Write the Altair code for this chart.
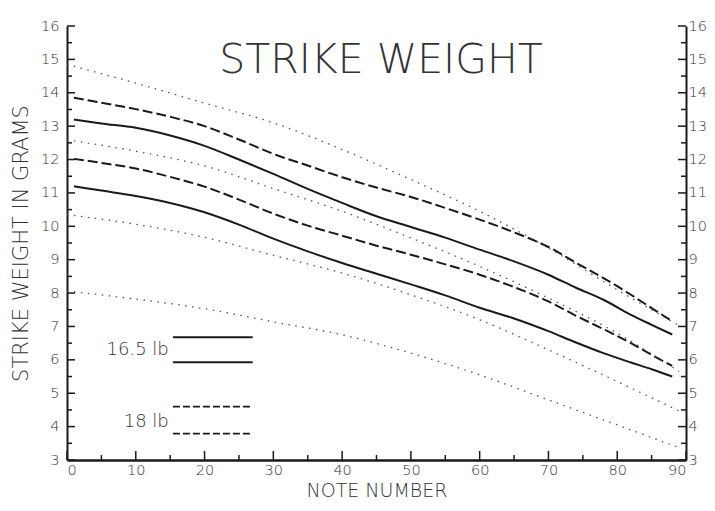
import altair as alt
import pandas as pd

# ---------------- data ----------------
notes = [1, 5, 10, 15, 20, 25, 30, 35, 40, 45, 50, 55, 60, 65, 70, 74, 78, 82, 85, 88]
upper_165 = [13.2, 13.08, 12.95, 12.72, 12.41, 12.0, 11.57, 11.12, 10.7, 10.3,
             9.98, 9.66, 9.3, 8.95, 8.55, 8.16, 7.8, 7.35, 7.05, 6.76]
lower_165 = [11.2, 11.07, 10.91, 10.7, 10.42, 10.05, 9.63, 9.25, 8.9, 8.58,
             8.26, 7.93, 7.56, 7.24, 6.86, 6.52, 6.2, 5.92, 5.72, 5.5]
upper_18 = [13.85, 13.7, 13.51, 13.28, 13.0, 12.6, 12.17, 11.82, 11.47, 11.16,
            10.88, 10.55, 10.2, 9.82, 9.38, 8.91, 8.45, 7.95, 7.55, 7.16]
lower_18 = [12.02, 11.9, 11.73, 11.48, 11.19, 10.8, 10.38, 10.02, 9.72, 9.42,
            9.15, 8.86, 8.55, 8.18, 7.75, 7.32, 6.92, 6.5, 6.15, 5.82]

bound_notes = [0, 10, 20, 30, 40, 50, 60, 70, 80, 89]
bound_1 = [14.85, 14.29, 13.69, 13.1, 12.3, 11.4, 10.45, 9.35, 8.1, 7.02]
bound_2 = [12.59, 12.25, 11.81, 11.13, 10.45, 9.65, 8.8, 7.85, 6.8, 5.65]
bound_3 = [10.35, 10.06, 9.67, 9.13, 8.6, 7.95, 7.2, 6.3, 5.35, 4.47]
bound_4 = [8.06, 7.82, 7.53, 7.14, 6.75, 6.2, 5.55, 4.8, 4.05, 3.37]

x_major = [0, 10, 20, 30, 40, 50, 60, 70, 80, 90]
x_minor = [5, 15, 25, 35, 45, 55, 65, 75, 85]
y_major = list(range(3, 17))
y_minor = [v + 0.5 for v in range(3, 16)]

legend_labels = ["16.5 lb", "18 lb"]
legend_label_y = [6.3, 4.13]
legend_solid_y = [6.68, 5.93]
legend_dashed_y = [4.6, 3.79]
legend_x = [15.4, 27.0]

# ---------------- tables ----------------
def series_df(xs, ys, name):
    return pd.DataFrame({"note": xs, "grams": ys, "series": name})

solid_df = pd.concat([series_df(notes, upper_165, "16.5 upper"),
                      series_df(notes, lower_165, "16.5 lower")])
dashed_df = pd.concat([series_df(notes, upper_18, "18 upper"),
                       series_df(notes, lower_18, "18 lower")])
dotted_df = pd.concat([series_df(bound_notes, b, f"bound {i}")
                       for i, b in enumerate([bound_1, bound_2, bound_3, bound_4])])

leg_solid = pd.DataFrame({"x1": legend_x[0], "x2": legend_x[1], "y": legend_solid_y})
leg_dashed = pd.DataFrame({"x1": legend_x[0], "x2": legend_x[1], "y": legend_dashed_y})
leg_text = pd.DataFrame({"x": [legend_x[0] - 0.6] * 2, "y": legend_label_y, "t": legend_labels})

W, H = 619, 434
FONT = "DejaVu Sans"
INK = "#1a1a1a"
TXT = "#333333"

xs = alt.Scale(domain=[0, 90], nice=False, zero=False)
ys = alt.Scale(domain=[3, 16], nice=False, zero=False)

x_axis = alt.Axis(orient="bottom", values=x_major, format="d", ticks=False, grid=False,
                  domainColor=INK, domainWidth=2.5,
                  labelFont=FONT, labelFontSize=14.5, labelColor=TXT, labelFontWeight=200,
                  labelPadding=3, title="NOTE NUMBER", titleFont=FONT,
                  titleFontSize=19, titleFontWeight=200, titleColor=TXT, titlePadding=5)
y_left = alt.Axis(orient="left", values=y_major, format="d", ticks=False, grid=False,
                  domainColor=INK, domainWidth=2,
                  labelFont=FONT, labelFontSize=14.5, labelColor=TXT, labelFontWeight=200,
                  labelPadding=8, title="STRIKE WEIGHT IN GRAMS", titleFont=FONT,
                  titleFontSize=21, titleFontWeight=200, titleColor=TXT, titlePadding=9)
y_right = alt.Axis(orient="right", values=y_major, format="d", ticks=False, grid=False,
                   domainColor=INK, domainWidth=2,
                   labelFont=FONT, labelFontSize=14.5, labelColor=TXT, labelFontWeight=200,
                   labelPadding=2, title=None)

X = lambda field: alt.X(field, scale=xs, axis=x_axis)

solid = alt.Chart(solid_df).mark_line(color=INK, strokeWidth=2, interpolate="monotone").encode(
    x=X("note:Q"),
    y=alt.Y("grams:Q", scale=ys, axis=y_left),
    detail="series:N",
)
dashed = alt.Chart(dashed_df).mark_line(color=INK, strokeWidth=2, strokeDash=[10, 4],
                                        interpolate="monotone").encode(
    x=X("note:Q"),
    y=alt.Y("grams:Q", scale=ys, axis=y_right),
    detail="series:N",
)
dotted = alt.Chart(dotted_df).mark_line(color="#555555", strokeWidth=1.3, strokeDash=[1.5, 5.5],
                                        interpolate="monotone").encode(
    x=X("note:Q"),
    y=alt.Y("grams:Q", scale=ys, axis=None),
    detail="series:N",
)

def yticks(vals, x0, x1):
    return alt.Chart(pd.DataFrame({"v": vals})).mark_rule(color=INK, strokeWidth=1.5).encode(
        y=alt.Y("v:Q", scale=ys, axis=None), x=alt.value(x0), x2=alt.value(x1))

def xticks(vals, length):
    return alt.Chart(pd.DataFrame({"v": vals})).mark_rule(color=INK, strokeWidth=1.5).encode(
        x=X("v:Q"), y=alt.value(H), y2=alt.value(H - length))

ticks = [yticks(y_major, 0, 8), yticks(y_minor, 0, 5),
         yticks(y_major, W - 8, W), yticks(y_minor, W - 5, W),
         xticks(x_major, 9), xticks(x_minor, 5)]

leg_s = alt.Chart(leg_solid).mark_rule(color=INK, strokeWidth=2).encode(
    x=X("x1:Q"), x2="x2:Q", y=alt.Y("y:Q", scale=ys, axis=None))
leg_d = alt.Chart(leg_dashed).mark_rule(color=INK, strokeWidth=1.8, strokeDash=[7, 3]).encode(
    x=X("x1:Q"), x2="x2:Q", y=alt.Y("y:Q", scale=ys, axis=None))
leg_t = alt.Chart(leg_text).mark_text(font=FONT, fontSize=18, fontWeight=200, color=TXT,
                                      align="right", baseline="middle").encode(
    x=X("x:Q"), y=alt.Y("y:Q", scale=ys, axis=None), text="t:N")

title = alt.Chart(pd.DataFrame({"t": ["STRIKE WEIGHT"]})).mark_text(
    font=FONT, fontSize=41, fontWeight=200, color=TXT, align="center", baseline="alphabetic"
).encode(x=alt.value(314), y=alt.value(47), text="t:N")

chart = alt.layer(solid, dashed, dotted, *ticks, leg_s, leg_d, leg_t, title).resolve_scale(
    y="independent"
).properties(
    width=W, height=H,
    autosize=alt.AutoSizeParams(type="none"),
    padding={"left": 59, "top": 18, "right": 21, "bottom": 43},
).configure(background="white", view=alt.ViewConfig(stroke=None))

chart.save("out.html", embed_options={"renderer": "svg", "actions": False})
